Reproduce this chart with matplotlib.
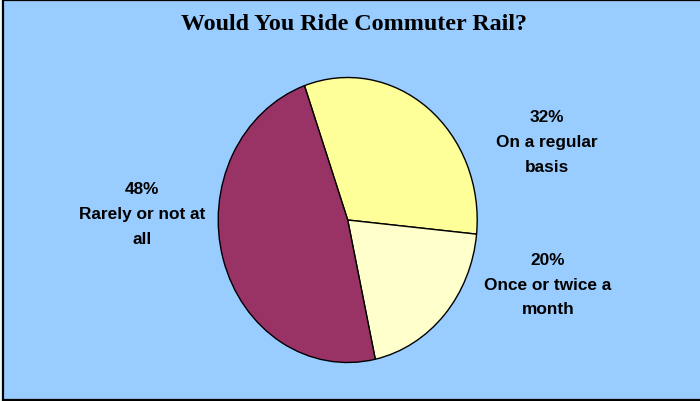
import matplotlib
matplotlib.use("Agg")
import matplotlib.pyplot as plt
from matplotlib.patches import Rectangle

# Survey responses
categories = ["On a regular\nbasis", "Once or twice a\nmonth", "Rarely or not at\nall"]
shares = [32, 20, 48]
colors = ["#FFFF99", "#FFFFCC", "#993366"]
title = "Would You Ride Commuter Rail?"

W, H = 700, 402
fig = plt.figure(figsize=(W / 100, H / 100), dpi=100)
fig.patch.set_facecolor("#EAFBFB")

# Chart area with a black frame
frame = Rectangle((3 / W, 1 / H), 1.2, (H - 2) / H, transform=fig.transFigure,
                  facecolor="#99CCFF", edgecolor="black", linewidth=1.6, zorder=-5)
fig.patches.append(frame)

# Pie axes (slightly taller than wide)
cx, cy, rx, ry = 347.7, 221, 129.5, 142.5
ax = fig.add_axes([(cx - rx) / W, (H - cy - ry) / H, 2 * rx / W, 2 * ry / H])
ax.set_zorder(2)
ax.set_facecolor("none")
ax.pie(shares, colors=colors, startangle=109.5, counterclock=False,
       wedgeprops=dict(edgecolor="black", linewidth=1.0))
ax.set_aspect("auto")
ax.set_xlim(-1, 1)
ax.set_ylim(-1, 1)
ax.axis("off")

# Category labels with percentages
label_pos = [(1.54, 0.55), (1.547, -0.45), (-1.59, 0.046)]
for cat, val, (lx, ly) in zip(categories, shares, label_pos):
    ax.text(lx, ly, f"{val}%\n{cat}", ha="center", va="center", multialignment="center",
            fontsize=12.4, fontweight="bold", family="Liberation Sans",
            linespacing=1.82, clip_on=False)

fig.text(354 / W, 1 - 24 / H, title, ha="center", va="center",
         fontsize=17.3, fontweight="bold", family="Liberation Serif")

fig.savefig("out.png", dpi=100, facecolor=fig.get_facecolor())
